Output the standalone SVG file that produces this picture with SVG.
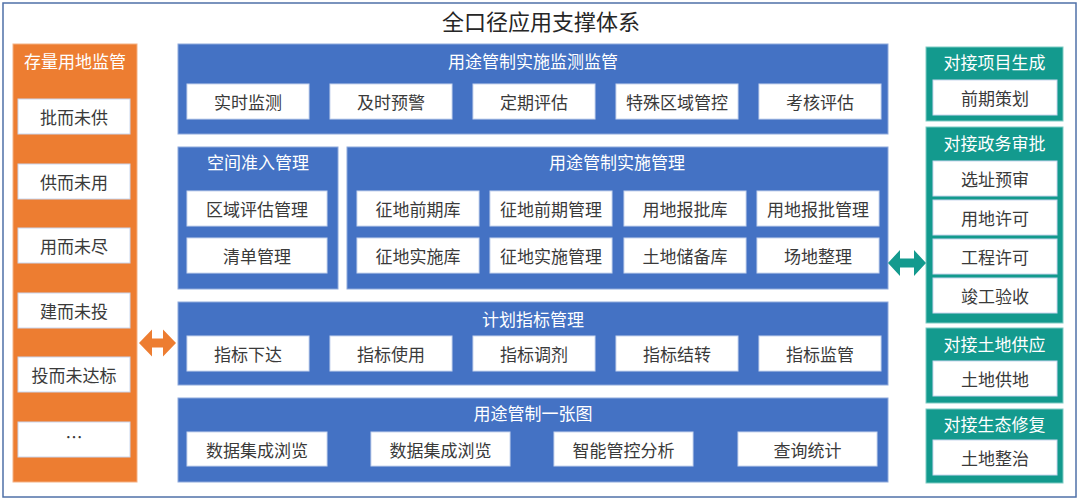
<svg xmlns="http://www.w3.org/2000/svg" width="1080" height="501" viewBox="0 0 1080 501">
<style>
text{font-family:"Noto Sans CJK SC","Microsoft YaHei",sans-serif;text-anchor:middle;dominant-baseline:central}
.t{font-size:22px;fill:#262626}
.h{font-size:17px;fill:#ffffff}
.i{font-size:17px;fill:#3a3a3a}
.blue{fill:#4472C4;stroke:#8EA9DB;stroke-width:1}
.org{fill:#ED7D31;stroke:#F4B183;stroke-width:1}
.grn{fill:#139A8E;stroke:#7FCBC3;stroke-width:1}
.box{fill:#ffffff;stroke:#C9D6EE;stroke-width:1}
</style>
<rect x="0" y="0" width="1080" height="501" fill="#ffffff"/>
<rect x="3" y="3" width="1073" height="494" fill="none" stroke="#4F70A8" stroke-width="1.5"/>
<text class="t" x="541" y="20">全口径应用支撑体系</text>

<g id="stock">
<rect class="org" x="13" y="44" width="124" height="438"/>
<text class="h" x="75" y="60">存量用地监管</text>
<rect class="box" x="18" y="99" width="112" height="35"/><text class="i" x="74" y="116.5">批而未供</text>
<rect class="box" x="18" y="164" width="112" height="35"/><text class="i" x="74" y="181.5">供而未用</text>
<rect class="box" x="18" y="228" width="112" height="35"/><text class="i" x="74" y="245.5">用而未尽</text>
<rect class="box" x="18" y="293" width="112" height="35"/><text class="i" x="74" y="310.5">建而未投</text>
<rect class="box" x="18" y="357" width="112" height="35"/><text class="i" x="74" y="374.5">投而未达标</text>
<rect class="box" x="18" y="422" width="112" height="35"/><text class="i" x="74" y="436.5">…</text>
</g>

<g id="monitor">
<rect class="blue" x="178" y="44" width="710" height="90"/>
<text class="h" x="533" y="60">用途管制实施监测监管</text>
<rect class="box" x="187" y="84" width="122" height="35"/><text class="i" x="248" y="101.5">实时监测</text>
<rect class="box" x="330" y="84" width="122" height="35"/><text class="i" x="391" y="101.5">及时预警</text>
<rect class="box" x="473" y="84" width="122" height="35"/><text class="i" x="534" y="101.5">定期评估</text>
<rect class="box" x="616" y="84" width="122" height="35"/><text class="i" x="677" y="101.5">特殊区域管控</text>
<rect class="box" x="759" y="84" width="122" height="35"/><text class="i" x="820" y="101.5">考核评估</text>
</g>

<g id="access">
<rect class="blue" x="178" y="147" width="160" height="142"/>
<text class="h" x="258" y="161">空间准入管理</text>
<rect class="box" x="187" y="191" width="140" height="35"/><text class="i" x="257" y="208.5">区域评估管理</text>
<rect class="box" x="187" y="238" width="140" height="35"/><text class="i" x="257" y="255.5">清单管理</text>
</g>

<g id="implement">
<rect class="blue" x="347" y="147" width="541" height="142"/>
<text class="h" x="617" y="161">用途管制实施管理</text>
<rect class="box" x="357" y="191" width="122" height="35"/><text class="i" x="418" y="208.5">征地前期库</text>
<rect class="box" x="490" y="191" width="122" height="35"/><text class="i" x="551" y="208.5">征地前期管理</text>
<rect class="box" x="624" y="191" width="122" height="35"/><text class="i" x="685" y="208.5">用地报批库</text>
<rect class="box" x="757" y="191" width="122" height="35"/><text class="i" x="818" y="208.5">用地报批管理</text>
<rect class="box" x="357" y="238" width="122" height="35"/><text class="i" x="418" y="255.5">征地实施库</text>
<rect class="box" x="490" y="238" width="122" height="35"/><text class="i" x="551" y="255.5">征地实施管理</text>
<rect class="box" x="624" y="238" width="122" height="35"/><text class="i" x="685" y="255.5">土地储备库</text>
<rect class="box" x="757" y="238" width="122" height="35"/><text class="i" x="818" y="255.5">场地整理</text>
</g>

<g id="plan">
<rect class="blue" x="178" y="302" width="710" height="83"/>
<text class="h" x="533" y="318">计划指标管理</text>
<rect class="box" x="187" y="336" width="122" height="35"/><text class="i" x="248" y="353.5">指标下达</text>
<rect class="box" x="330" y="336" width="122" height="35"/><text class="i" x="391" y="353.5">指标使用</text>
<rect class="box" x="473" y="336" width="122" height="35"/><text class="i" x="534" y="353.5">指标调剂</text>
<rect class="box" x="616" y="336" width="122" height="35"/><text class="i" x="677" y="353.5">指标结转</text>
<rect class="box" x="759" y="336" width="122" height="35"/><text class="i" x="820" y="353.5">指标监管</text>
</g>

<g id="map">
<rect class="blue" x="178" y="398" width="710" height="84"/>
<text class="h" x="533" y="412">用途管制一张图</text>
<rect class="box" x="187" y="432" width="140" height="34"/><text class="i" x="257" y="449">数据集成浏览</text>
<rect class="box" x="371" y="432" width="139" height="34"/><text class="i" x="440.5" y="449">数据集成浏览</text>
<rect class="box" x="554" y="432" width="139" height="34"/><text class="i" x="623.5" y="449">智能管控分析</text>
<rect class="box" x="738" y="432" width="139" height="34"/><text class="i" x="807.5" y="449">查询统计</text>
</g>

<g id="project">
<rect class="grn" x="926" y="47" width="137" height="74"/>
<text class="h" x="994.5" y="61">对接项目生成</text>
<rect class="box" x="933" y="80" width="124" height="35"/><text class="i" x="995" y="97.5">前期策划</text>
</g>

<g id="approval">
<rect class="grn" x="926" y="127" width="137" height="196"/>
<text class="h" x="994.5" y="142">对接政务审批</text>
<rect class="box" x="933" y="161" width="124" height="35"/><text class="i" x="995" y="178.5">选址预审</text>
<rect class="box" x="933" y="200" width="124" height="35"/><text class="i" x="995" y="217.5">用地许可</text>
<rect class="box" x="933" y="239" width="124" height="35"/><text class="i" x="995" y="256.5">工程许可</text>
<rect class="box" x="933" y="278" width="124" height="35"/><text class="i" x="995" y="295.5">竣工验收</text>
</g>

<g id="supply">
<rect class="grn" x="926" y="328" width="137" height="75"/>
<text class="h" x="994.5" y="343">对接土地供应</text>
<rect class="box" x="933" y="361" width="124" height="35"/><text class="i" x="995" y="378.5">土地供地</text>
</g>

<g id="ecology">
<rect class="grn" x="926" y="409" width="137" height="74"/>
<text class="h" x="994.5" y="423">对接生态修复</text>
<rect class="box" x="933" y="440" width="124" height="35"/><text class="i" x="995" y="457.5">土地整治</text>
</g>

<g id="connectors">
<polygon fill="#ED7D31" points="139,343 152,329.5 152,338.5 163,338.5 163,329.5 176,343 163,356.5 163,347.5 152,347.5 152,356.5"/>
<polygon fill="#139A8E" points="888,263 900,250 900,258.5 914,258.5 914,250 926,263 914,276 914,267.5 900,267.5 900,276"/>
</g>
</svg>
